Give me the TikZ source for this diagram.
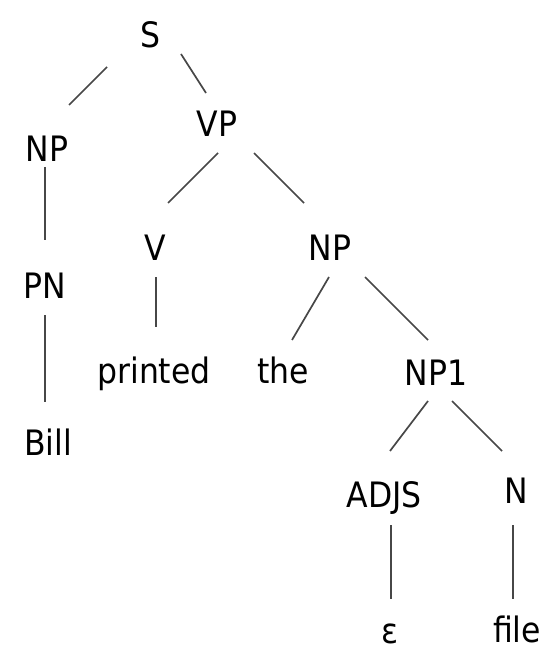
\documentclass[tikz,border=0pt]{standalone}
\usepackage{fontspec}
\setmainfont{DejaVu Sans Condensed}
\begin{document}
\begin{tikzpicture}[x=1pt,y=-1pt,
  lbl/.style={anchor=base,inner sep=0pt,font=\fontsize{35}{40}\selectfont},
  edge/.style={draw=black!72,line width=1.7pt}]
\useasboundingbox (0,0) rectangle (557,652);
\node[lbl] (S) at (150,48) {S};
\node[lbl] (NP) at (47,162) {NP};
\node[lbl] (VP) at (217,137) {VP};
\node[lbl] (PN) at (45,298) {PN};
\node[lbl] (V) at (155,260) {V};
\node[lbl] (NPr) at (330,260) {NP};
\node[lbl] (Bill) at (48,455) {Bill};
\node[lbl] (printed) at (154,383) {printed};
\node[lbl] (the) at (283,383) {the};
\node[lbl] (NP1) at (436,385) {NP1};
\node[lbl] (ADJS) at (384,507) {ADJS};
\node[lbl] (N) at (516,503) {N};
\node[lbl] (eps) at (390,643) {ε};
\node[lbl] (file) at (517,642) {file};
\draw[edge] ([shift={(-43,19)}]S.base) -- ([shift={(22,-57)}]NP.base);
\draw[edge] ([shift={(31,6)}]S.base) -- ([shift={(-11,-44)}]VP.base);
\draw[edge] ([shift={(-2,5)}]NP.base) -- ([shift={(0,-58)}]PN.base);
\draw[edge] ([shift={(0,17)}]PN.base) -- ([shift={(-3,-53)}]Bill.base);
\draw[edge] ([shift={(1,16)}]VP.base) -- ([shift={(13,-57)}]V.base);
\draw[edge] ([shift={(37,16)}]VP.base) -- ([shift={(-26,-57)}]NPr.base);
\draw[edge] ([shift={(1,17)}]V.base) -- ([shift={(2,-56)}]printed.base);
\draw[edge] ([shift={(-1,17)}]NPr.base) -- ([shift={(9,-43)}]the.base);
\draw[edge] ([shift={(35,17)}]NPr.base) -- ([shift={(-8,-45)}]NP1.base);
\draw[edge] ([shift={(-8,16)}]NP1.base) -- ([shift={(6,-56)}]ADJS.base);
\draw[edge] ([shift={(16,16)}]NP1.base) -- ([shift={(-14,-52)}]N.base);
\draw[edge] ([shift={(7,18)}]ADJS.base) -- ([shift={(1,-44)}]eps.base);
\draw[edge] ([shift={(-3,22)}]N.base) -- ([shift={(-4,-43)}]file.base);
\end{tikzpicture}
\end{document}
